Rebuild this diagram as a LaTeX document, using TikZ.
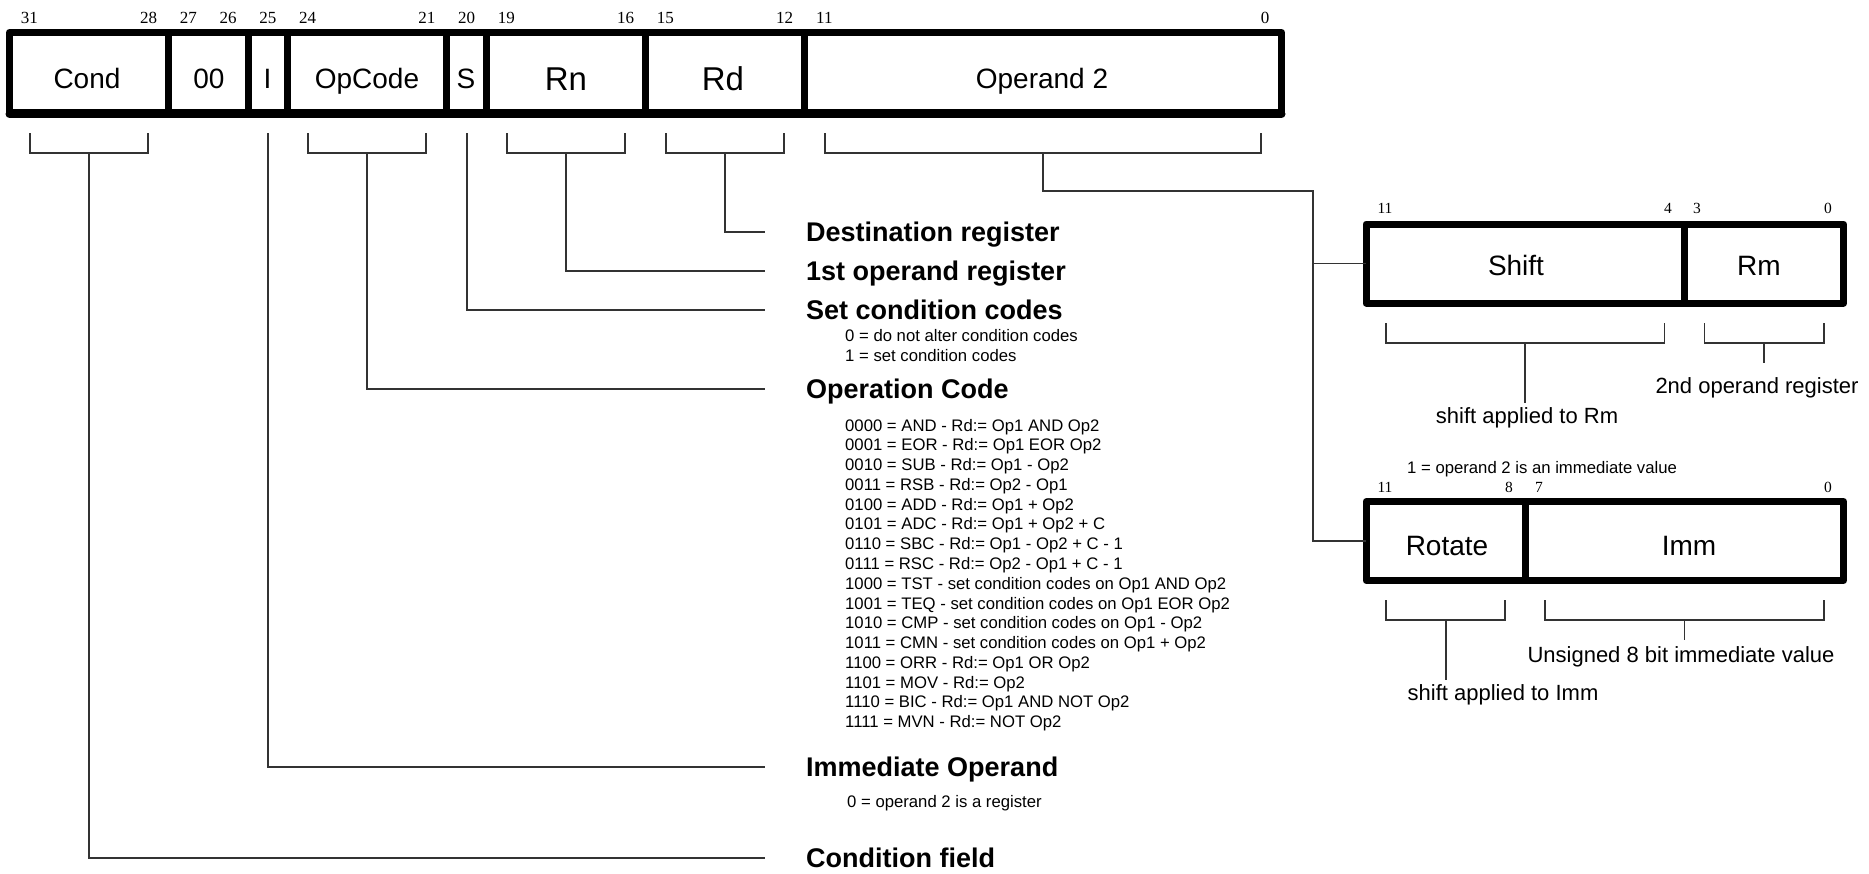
\documentclass[tikz,border=0pt]{standalone}
\usepackage{fontspec}
\setmainfont{Liberation Sans}
\newfontfamily\digitfont{Liberation Serif}
\tikzset{
 fld/.style={draw=black, line width=7pt, line join=round, minimum height=80pt, inner sep=0pt, outer sep=0pt},
 fldR/.style={fld, minimum height=79pt},
 ftxt/.style={font=\fontsize{28}{32}\selectfont, anchor=base, inner sep=0pt},
 ftxtL/.style={font=\fontsize{33}{38}\selectfont, anchor=base, inner sep=0pt},
 bitno/.style={font=\digitfont\fontsize{17}{19}\selectfont, anchor=base, inner sep=0pt},
 bitnoS/.style={font=\digitfont\fontsize{15.5}{17}\selectfont, anchor=base, inner sep=0pt},
 conn/.style={draw=black!80, line width=1.8pt},
 head/.style={font=\fontsize{27}{32}\selectfont\bfseries, anchor=west, inner sep=0pt, text height=19.3pt, text depth=0pt},
 note/.style={font=\fontsize{16.7}{20}\selectfont, anchor=base west, inner sep=0pt},
 sublbl/.style={font=\fontsize{22}{26}\selectfont, anchor=base, inner sep=0pt, text height=15.8pt},
}
\newcommand\brk[4]{\draw[conn] (#1,#3) -- (#1,#4) -- (#2,#4) -- (#2,#3);}
\begin{document}
\begin{tikzpicture}[x=1pt,y=-1pt]
\useasboundingbox (0,0) rectangle (1869,873);

% ---- main instruction word ----
\node[fld, minimum width=159pt] (cond) at (89,72.5) {};
\node[fld, minimum width=79.5pt] (zero) at (208.25,72.5) {};
\node[fld, minimum width=39.75pt] (ibit) at (267.9,72.5) {};
\node[fld, minimum width=159pt] (opc) at (367.25,72.5) {};
\node[fld, minimum width=39.75pt] (sbit) at (466.6,72.5) {};
\node[fld, minimum width=159pt] (rn) at (566,72.5) {};
\node[fld, minimum width=159pt] (rd) at (725,72.5) {};
\node[fld, minimum width=477pt] (op2) at (1043,72.5) {};
\draw[line width=8pt, line cap=round] ([yshift=-1.5pt]cond.south west) -- ([yshift=-1.5pt]op2.south east);

\node[ftxt] (condT) at (87,88) {Cond};
\node[ftxt] (zeroT) at (209,88) {00};
\node[ftxt] (ibitT) at (267.5,88) {I};
\node[ftxt] (opcT) at (367,88) {OpCode};
\node[ftxt] (sbitT) at (466,88) {S};
\node[ftxtL] (rnT) at (566,90.5) {Rn};
\node[ftxtL] (rdT) at (723,90.5) {Rd};
\node[ftxt] (op2T) at (1042,88) {Operand 2};

% bit numbers
\foreach \b/\x in {31/29.4, 28/148.6, 27/188.4, 26/228.1, 25/267.9, 24/307.6, 21/426.9, 20/466.6, 19/506.4, 16/625.6, 15/665.4, 12/784.6, 11/824.4, 0/1265}
  \node[bitno] (bn\b) at (\x,23) {\b};

% ---- brackets under main word ----
\brk{30}{148}{133}{153}
\brk{308.25}{426.25}{133}{153}
\brk{507}{625}{133}{153}
\brk{666}{784}{133}{153}
\brk{825}{1261}{133}{153}
\coordinate (condB) at (89,153);
\coordinate (iB) at (267.9,133);
\coordinate (opcB) at (367.25,153);
\coordinate (sB) at (466.6,133);
\coordinate (rnB) at (566,153);
\coordinate (rdB) at (725,153);
\coordinate (op2B) at (1043,153);

% ---- labels ----
\node[head] (lRd) at (806,232) {Destination register};
\node[head] (lRn) at (806,271) {1st operand register};
\node[head] (lS) at (806,310) {Set condition codes};
\node[note] (lS0) at (845,341) {0 = do not alter condition codes};
\node[note] (lS1) at (845,361) {1 = set condition codes};
\node[head] (lOpc) at (806,389) {Operation Code};
\foreach \t [count=\i from 0] in {
 0000 = AND - Rd:= Op1 AND Op2,
 0001 = EOR - Rd:= Op1 EOR Op2,
 0010 = SUB - Rd:= Op1 - Op2,
 0011 = RSB - Rd:= Op2 - Op1,
 0100 = ADD - Rd:= Op1 + Op2,
 0101 = ADC - Rd:= Op1 + Op2 + C,
 0110 = SBC - Rd:= Op1 - Op2 + C - 1,
 0111 = RSC - Rd:= Op2 - Op1 + C - 1,
 1000 = TST - set condition codes on Op1 AND Op2,
 1001 = TEQ - set condition codes on Op1 EOR Op2,
 1010 = CMP - set condition codes on Op1 - Op2,
 1011 = CMN - set condition codes on Op1 + Op2,
 1100 = ORR - Rd:= Op1 OR Op2,
 1101 = MOV - Rd:= Op2,
 1110 = BIC - Rd:= Op1 AND NOT Op2,
 1111 = MVN - Rd:= NOT Op2}
  \node[note] (op\i) at (845,{431+19.78*\i}) {\t};
\node[head] (lImm) at (806,767) {Immediate Operand};
\node[note] (lImm0) at (847,807) {0 = operand 2 is a register};
\node[head] (lCond) at (806,858) {Condition field};

\draw[conn, shorten >=41pt] (rdB) |- (lRd.west);
\draw[conn, shorten >=41pt] (rnB) |- (lRn.west);
\draw[conn, shorten >=41pt] (sB) |- (lS.west);
\draw[conn, shorten >=41pt] (opcB) |- (lOpc.west);
\draw[conn, shorten >=41pt] (iB) |- (lImm.west);
\draw[conn, shorten >=41pt] (condB) |- (lCond.west);

% ---- operand 2 forms ----
\node[fldR, minimum width=318.4pt] (shift) at (1525.2,263.5) {};
\node[fldR, minimum width=159.2pt] (rm) at (1764,263.5) {};
\node[fldR, minimum width=159.2pt] (rot) at (1445.6,541) {};
\node[fldR, minimum width=318.4pt] (imm) at (1684.4,541) {};

\node[ftxt] (shiftT) at (1516,275) {Shift};
\node[ftxt] (rmT) at (1759,275) {Rm};
\node[ftxt] (rotT) at (1447,555) {Rotate};
\node[ftxt] (immT) at (1689,555) {Imm};

\node[bitnoS] (s11) at (1385,213) {11};
\node[bitnoS] (s4) at (1668,213) {4};
\node[bitnoS] (s3) at (1697,213) {3};
\node[bitnoS] (s0) at (1828,213) {0};
\node[bitnoS] (r11) at (1385,492) {11};
\node[bitnoS] (r8) at (1509,492) {8};
\node[bitnoS] (r7) at (1539,492) {7};
\node[bitnoS] (r0) at (1828,492) {0};

\node[note] (lImmVal) at (1407,473) {1 = operand 2 is an immediate value};

\coordinate (j1) at (1313,191);
\draw[conn] (op2B) |- (j1) |- (rot.west);
\draw[conn] (shift.west) -- (shift.west -| j1);

\brk{1386}{1664.4}{323}{343}
\brk{1704.4}{1823.6}{323}{343}
\brk{1386}{1505}{600}{620}
\brk{1545}{1823.6}{600}{620}
\coordinate (shB) at (1525.2,343);
\coordinate (rmB) at (1764,343);
\coordinate (rotB) at (1445.6,620);
\coordinate (immB) at (1684.4,620);

\node[sublbl] (lShRm) at (1527,423) {shift applied to Rm};
\node[sublbl] (l2nd) at (1757,393) {2nd operand register};
\node[sublbl] (lU8) at (1681,662) {Unsigned 8 bit immediate value};
\node[sublbl] (lShImm) at (1503,700) {shift applied to Imm};

\draw[conn, shorten >=4pt] (shB) -- (shB |- lShRm.north);
\draw[conn, shorten >=14pt] (rmB) -- (rmB |- l2nd.north);
\draw[conn, shorten >=6pt] (immB) -- (immB |- lU8.north);
\draw[conn, shorten >=4pt] (rotB) -- (rotB |- lShImm.north);
\end{tikzpicture}
\end{document}
